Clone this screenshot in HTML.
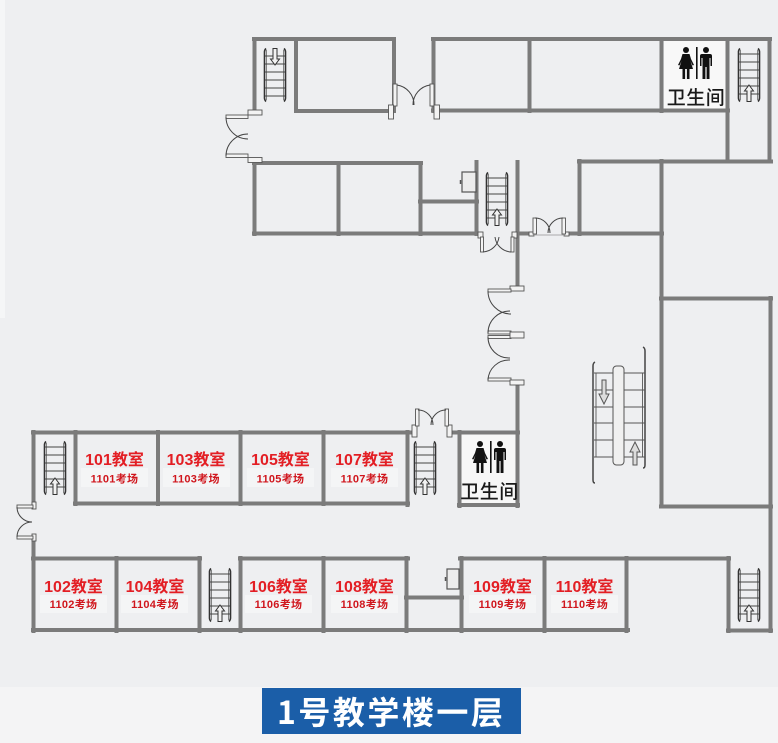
<!DOCTYPE html>
<html><head><meta charset="utf-8"><style>
html,body{margin:0;padding:0;background:#eeeff1;}
svg{display:block;}
</style></head><body>
<svg width="778" height="743" viewBox="0 0 778 743" xmlns="http://www.w3.org/2000/svg">
<defs>
<g id="st">
<path d="M3,0.5 Q1.5,2 1.5,4 L1.5,50 Q1.5,52 3,53.5" stroke="#333" stroke-width="1.6" fill="none"/>
<path d="M21,0.5 Q22.5,2 22.5,4 L22.5,50 Q22.5,52 21,53.5" stroke="#333" stroke-width="1.6" fill="none"/>
<line x1="3.6" y1="2" x2="3.6" y2="52" stroke="#666" stroke-width="0.8"/>
<line x1="20.4" y1="2" x2="20.4" y2="52" stroke="#666" stroke-width="0.8"/>
<g stroke="#444" stroke-width="1">
<line x1="2" y1="6" x2="22" y2="6"/><line x1="2" y1="14" x2="22" y2="14"/><line x1="2" y1="22" x2="22" y2="22"/>
<line x1="2" y1="30" x2="22" y2="30"/><line x1="2" y1="38" x2="22" y2="38"/><line x1="2" y1="46" x2="22" y2="46"/>
</g>
<polygon points="12,37 16.5,43 14,43 14,53.5 10,53.5 10,43 7.5,43" fill="#f2f2f2" stroke="#333" stroke-width="1"/>
</g>
<g id="wc">
<circle cx="8" cy="3" r="3" fill="#111"/>
<path d="M4.5,7 L11.5,7 L13,12 L16,18 L14.5,18.5 L12.5,14 L15,22 L1,22 L3.5,14 L1.5,18.5 L0,18 L3,12 Z" fill="#111"/>
<rect x="4.5" y="21" width="2.6" height="11" fill="#111"/>
<rect x="8.9" y="21" width="2.6" height="11" fill="#111"/>
<rect x="18" y="0" width="1.6" height="32" fill="#111"/>
<circle cx="28" cy="3" r="3" fill="#111"/>
<path d="M22,9 Q22,7 24,7 L32,7 Q34,7 34,9 L34,19 L32.5,19 L32.5,11 L31.5,11 L31.5,32 L28.6,32 L28.6,20 L27.4,20 L27.4,32 L24.5,32 L24.5,11 L23.5,11 L23.5,19 L22,19 Z" fill="#111"/>
</g>
</defs>

<rect x="0" y="0" width="778" height="743" fill="#eeeff1"/>
<rect x="0" y="0" width="5" height="318" fill="#f5f6f7"/>
<rect x="0" y="687" width="778" height="56" fill="#f4f4f5"/>

<!-- restroom fills -->
<rect x="664" y="41" width="62" height="68" fill="#f8f8f8"/>
<rect x="461" y="434" width="55" height="70" fill="#f7f7f7"/>

<!-- sub label backgrounds -->
<g fill="#f4f5f6">
<rect x="81" y="468" width="67" height="19"/>
<rect x="163" y="468" width="67" height="19"/>
<rect x="247" y="468" width="67" height="19"/>
<rect x="331" y="468" width="67" height="19"/>
<rect x="40" y="595" width="67" height="18"/>
<rect x="121" y="595" width="67" height="18"/>
<rect x="245" y="595" width="67" height="18"/>
<rect x="331" y="595" width="67" height="18"/>
<rect x="469" y="595" width="67" height="18"/>
<rect x="551" y="595" width="67" height="18"/>
</g>

<!-- walls -->
<path fill="none" stroke="#7b7b7b" stroke-width="4" stroke-linecap="square" d="
M254,39 H394 M254.5,39 V111 M296,39 V111 M296,111 H394 M394,39 V111
M254.5,161 V234 M254,163 H421 M338.5,163 V234 M420.5,163 V234 M254,233.5 H477 M420,201.5 H477 M476.5,162 V234
M433,39 H770 M433.5,39 V111 M433,110.5 H728 M529.5,39 V111 M661.5,39 V111 M727.5,39 V161.5 M769.5,39 V161.5
M579,161.5 H771 M579.5,161 V234 M661.5,161 V506
M519,233.5 H530 M569,233.5 H662
M517.5,162 V288 M517.5,386 V506
M661,298.5 H771 M770.5,298 V631 M661,506.5 H771
M33,432.5 H410 M33.5,432 V503 M33.5,540 V631
M75.5,432 V504 M75,503.5 H408 M158,432 V504 M240.5,432 V504 M323.5,432 V504 M407.5,432 V505
M452,432.5 H518 M459.5,432 V506 M459,505 H518
M33,558.5 H200 M240,558.5 H408 M460,558.5 H729
M116.5,558 V631 M199.5,558 V631 M240.5,558 V631 M323.5,558 V631 M406.5,558 V631
M461.5,558 V631 M544.5,558 V631 M626.5,558 V631
M406,597.5 H462
M33,630 H628 M728.5,558 V631 M728,630.5 H771
"/>

<!-- doors -->
<g fill="#f3f3f3" stroke="#555" stroke-width="0.9">
<!-- door A -->
<rect x="393" y="84" width="4" height="22"/><rect x="388.5" y="105" width="5" height="14"/>
<rect x="430" y="84" width="4" height="22"/><rect x="434" y="105" width="5.5" height="14"/>
<!-- door B -->
<rect x="248" y="110" width="14" height="5"/><rect x="226" y="115" width="22" height="3.5"/>
<rect x="226" y="154" width="22" height="3.5"/><rect x="248" y="157.5" width="14" height="5"/>
<!-- door C -->
<rect x="478" y="232" width="5" height="6"/><rect x="512" y="232" width="5" height="6"/>
<rect x="480.5" y="237" width="3" height="15"/><rect x="511" y="237" width="3" height="15"/>
<!-- door D -->
<rect x="529" y="232" width="5" height="4"/><rect x="564" y="232" width="5" height="4"/>
<rect x="533" y="218" width="3.5" height="16"/><rect x="562" y="218" width="3.5" height="16"/>
<!-- door E -->
<rect x="510" y="286" width="14" height="5"/><rect x="488" y="289" width="23" height="3"/>
<rect x="488" y="331" width="23" height="3"/><rect x="488" y="335.5" width="23" height="3"/><rect x="510" y="332" width="14" height="6"/>
<rect x="488" y="378" width="23" height="3"/><rect x="510" y="380" width="14" height="5"/>
<!-- door F -->
<rect x="412" y="425" width="5" height="12"/><rect x="447" y="425" width="5" height="12"/>
<rect x="415.5" y="409" width="3.5" height="17"/><rect x="445" y="409" width="3.5" height="17"/>
<!-- door G -->
<rect x="32" y="502" width="4" height="7"/><rect x="32" y="534" width="4" height="7"/>
<rect x="17" y="505" width="16" height="3"/><rect x="17" y="536" width="16" height="3"/>
</g>
<g fill="none" stroke="#444" stroke-width="1">
<path d="M397,85 A20,20 0 0 1 414,105"/><path d="M430,85 A20,20 0 0 0 413,105"/>
<path d="M226,117 A22,22 0 0 0 248,139"/><path d="M226,156 A22,22 0 0 1 248,134"/>
<path d="M483,252 A17,17 0 0 0 499,237"/><path d="M511,252 A17,17 0 0 1 495,237"/>
<path d="M535,218 A15,15 0 0 1 550,233"/><path d="M563,218 A15,15 0 0 0 548,233"/>
<line x1="534" y1="235" x2="564" y2="235" stroke="#aaa"/>
<path d="M488,291 A23,23 0 0 0 511,314"/><path d="M488,333 A22,22 0 0 1 510,311"/>
<path d="M488,337 A21,21 0 0 0 510,358"/><path d="M488,380 A21,21 0 0 1 510,360"/>
<path d="M418,410 A15,15 0 0 1 433,425"/><path d="M446,410 A15,15 0 0 0 431,425"/>
<path d="M17,507 A15,15 0 0 0 32,522"/><path d="M17,537 A15,15 0 0 1 32,522"/>
</g>

<!-- elevator boxes -->
<g fill="#ececec" stroke="#555" stroke-width="1.2">
<rect x="462" y="172" width="14" height="20"/>
<rect x="447" y="569" width="12" height="20"/>
</g>
<line x1="460.5" y1="180" x2="460.5" y2="184" stroke="#555" stroke-width="1.5"/>
<line x1="445.5" y1="577" x2="445.5" y2="581" stroke="#555" stroke-width="1.5"/>

<!-- stairs -->
<g transform="translate(287,102) rotate(180)"><use href="#st"/></g>
<use href="#st" x="737" y="48"/>
<use href="#st" x="485" y="172"/>
<use href="#st" x="43" y="441"/>
<use href="#st" x="413" y="441"/>
<use href="#st" x="208" y="568"/>
<use href="#st" x="737" y="568"/>

<!-- escalator -->
<g stroke="#444" fill="none">
<path d="M595,362 Q593,363 593,366 L593,480 Q593,483 595,483" stroke-width="1.5"/>
<path d="M643,347 Q645,348 645,351 L645,465 Q645,468 643,468" stroke-width="1.5"/>
<line x1="596" y1="373" x2="596" y2="457" stroke-width="0.8"/>
<line x1="642.5" y1="373" x2="642.5" y2="457" stroke-width="0.8"/>
<g stroke="#555" stroke-width="1">
<line x1="594" y1="373" x2="645" y2="373"/><line x1="594" y1="390" x2="645" y2="390"/>
<line x1="594" y1="407" x2="645" y2="407"/><line x1="594" y1="423" x2="645" y2="423"/>
<line x1="594" y1="440" x2="645" y2="440"/><line x1="594" y1="457" x2="645" y2="457"/>
</g>
</g>
<rect x="613" y="366" width="11" height="99" rx="3.5" fill="#f0f0f0" stroke="#555" stroke-width="1"/>
<polygon points="602,380 606,380 606,394 609,394 604,404 599,394 602,394" fill="#dcdcdc" stroke="#555" stroke-width="1"/>
<polygon points="635,442 640,452 637,452 637,465 633,465 633,452 630,452" fill="#dcdcdc" stroke="#555" stroke-width="1"/>

<!-- restroom icons -->
<use href="#wc" x="678" y="47"/>
<use href="#wc" x="472" y="441"/>
<g font-family="'Liberation Sans','Noto Sans CJK SC',sans-serif" font-size="19" fill="#1a1a1a" text-anchor="middle" font-weight="500">
<text x="696" y="104" letter-spacing="0.5">卫生间</text>
<text x="489.5" y="498" letter-spacing="0.5">卫生间</text>
</g>

<!-- room labels -->
<g font-family="'Liberation Sans','Noto Sans CJK SC',sans-serif" font-weight="bold" text-anchor="middle">
<g font-size="16" fill="#e31e24">
<text x="114.5" y="465">101教室</text>
<text x="196" y="465">103教室</text>
<text x="280.5" y="465">105教室</text>
<text x="364.5" y="465">107教室</text>
<text x="73.5" y="592">102教室</text>
<text x="155" y="592">104教室</text>
<text x="278.5" y="592">106教室</text>
<text x="364.5" y="592">108教室</text>
<text x="502.5" y="592">109教室</text>
<text x="584.5" y="592">110教室</text>
</g>
<g font-size="11" fill="#d0161d" letter-spacing="0.3">
<text x="114.5" y="482.5">1101考场</text>
<text x="196" y="482.5">1103考场</text>
<text x="280.5" y="482.5">1105考场</text>
<text x="364.5" y="482.5">1107考场</text>
<text x="73.5" y="608">1102考场</text>
<text x="155" y="608">1104考场</text>
<text x="278.5" y="608">1106考场</text>
<text x="364.5" y="608">1108考场</text>
<text x="502.5" y="608">1109考场</text>
<text x="584.5" y="608">1110考场</text>
</g>
</g>

<!-- title -->
<rect x="262" y="688" width="259" height="46" fill="#1b5ea8"/>
<text x="277" y="724" font-family="'Noto Sans CJK SC',sans-serif" font-weight="bold" font-size="32" fill="#ffffff" letter-spacing="2.5">1号教学楼一层</text>
</svg>
</body></html>
